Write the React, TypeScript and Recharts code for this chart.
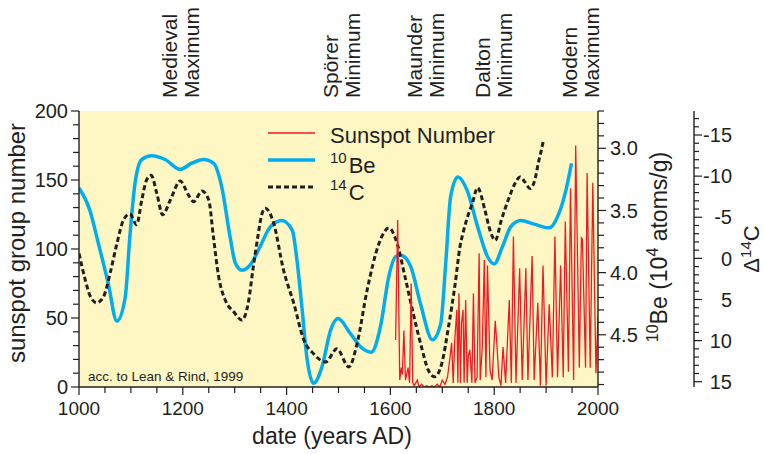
import { ComposedChart, Line, XAxis, YAxis, CartesianGrid } from "recharts";

const INK = "#231f20";
const PAPER = "#fef7c4";
const RED = "#ed1c24";
const BLUE = "#00aeef";
const FONT = "'Liberation Sans', Arial, Helvetica, sans-serif";

// 10Be concentration (10^4 atoms/g)
const beYears = [1000, 1021, 1037, 1056, 1073, 1089, 1098, 1108, 1121, 1140, 1166, 1195, 1217, 1240, 1259, 1275, 1291, 1301, 1314, 1333, 1349, 1369, 1391, 1411, 1420, 1430, 1439, 1452, 1468, 1485, 1499, 1523, 1546, 1563, 1581, 1597, 1610, 1620, 1639, 1658, 1681, 1697, 1707, 1716, 1730, 1748, 1768, 1787, 1800, 1816, 1832, 1851, 1877, 1906, 1922, 1938, 1949];
const beValues = [3.32, 3.5, 3.76, 4.08, 4.39, 4.2, 3.71, 3.28, 3.09, 3.06, 3.09, 3.17, 3.12, 3.09, 3.12, 3.31, 3.71, 3.92, 3.98, 3.92, 3.79, 3.63, 3.58, 3.66, 3.9, 4.3, 4.68, 4.89, 4.76, 4.46, 4.37, 4.49, 4.61, 4.64, 4.43, 4.03, 3.87, 3.86, 3.95, 4.25, 4.54, 4.41, 3.9, 3.39, 3.23, 3.34, 3.63, 3.87, 3.93, 3.79, 3.63, 3.58, 3.61, 3.64, 3.55, 3.34, 3.12];

// delta 14C (permil)
const c14Years = [1000, 1012, 1021, 1034, 1047, 1060, 1073, 1086, 1098, 1111, 1121, 1130, 1139, 1150, 1161, 1176, 1195, 1211, 1221, 1237, 1250, 1259, 1269, 1282, 1298, 1314, 1327, 1335, 1345, 1352, 1359, 1375, 1394, 1414, 1433, 1452, 1475, 1497, 1520, 1536, 1555, 1578, 1597, 1613, 1628, 1644, 1660, 1673, 1685, 1699, 1712, 1725, 1734, 1740, 1750, 1758, 1768, 1782, 1792, 1802, 1814, 1827, 1840, 1850, 1859, 1869, 1879, 1885, 1891, 1895];
const c14Values = [-0.6, 2.6, 4.5, 5.4, 4.7, 1.8, -1.8, -4.7, -5.4, -4.1, -7.1, -9.5, -10.1, -7.9, -5.3, -7.1, -9.4, -7.7, -6.9, -8.2, -7.1, -2.6, 2.2, 5.1, 6.5, 7.5, 5.1, 1.4, -2.8, -5.3, -6.1, -4.3, 1.4, 5.5, 9.9, 11.6, 12.6, 11.0, 13.2, 10.3, 3.9, -1.8, -3.7, -1.8, 2.2, 6.7, 10.8, 13.6, 14.4, 12.8, 8.3, 3.0, -1.4, -3.1, -5.3, -6.7, -8.6, -5.9, -3.4, -2.2, -4.7, -7.1, -9.1, -9.9, -9.3, -8.5, -9.7, -11.6, -13.2, -14.4];

// group sunspot number
const ssYears = [1610, 1614, 1618, 1621, 1623, 1626, 1629, 1634, 1637, 1640, 1643, 1646, 1652, 1655, 1660, 1665, 1670, 1675, 1680, 1685, 1690, 1695, 1700, 1705, 1710, 1715, 1718, 1721, 1724, 1728, 1730, 1732, 1735, 1737, 1740, 1742, 1745, 1748, 1750, 1753, 1757, 1760, 1763, 1767, 1771, 1773, 1777, 1781, 1784, 1787, 1792, 1796, 1802, 1805, 1809, 1813, 1817, 1822, 1829, 1833, 1837, 1842, 1849, 1854, 1861, 1865, 1873, 1877, 1884, 1889, 1894, 1900, 1906, 1912, 1917, 1922, 1928, 1933, 1937, 1943, 1947, 1953, 1957, 1964, 1968, 1970, 1976, 1979, 1985, 1990, 1996, 2000];
const ssValues = [34, 121, 5, 14, 9, 41, 5, 14, 3, 75, 3, 1, 5, 0, 2, 0, 1, 0, 1, 0, 2, 0, 5, 2, 7, 22, 32, 3, 34, 56, 3, 68, 3, 46, 56, 3, 63, 3, 22, 27, 3, 68, 3, 7, 97, 5, 29, 92, 7, 88, 12, 5, 48, 32, 7, 1, 29, 3, 63, 3, 109, 3, 86, 5, 86, 5, 95, 5, 61, 1, 88, 1, 60, 7, 109, 7, 88, 7, 120, 11, 144, 5, 175, 14, 108, 107, 14, 155, 14, 148, 10, 51];

const yearTicks = [1000, 1050, 1100, 1150, 1200, 1250, 1300, 1350, 1400, 1450, 1500, 1550, 1600, 1650, 1700, 1750, 1800, 1850, 1900, 1950, 2000];
const yearLabels = [1000, 1200, 1400, 1600, 1800, 2000];
const ssTicks = [0, 10, 20, 30, 40, 50, 60, 70, 80, 90, 100, 110, 120, 130, 140, 150, 160, 170, 180, 190, 200];
const ssLabels = [0, 50, 100, 150, 200];
const beTicks = [2.7, 2.8, 2.9, 3.0, 3.1, 3.2, 3.3, 3.4, 3.5, 3.6, 3.7, 3.8, 3.9, 4.0, 4.1, 4.2, 4.3, 4.4, 4.5, 4.6, 4.7, 4.8, 4.9];
const beLabels = [3.0, 3.5, 4.0, 4.5];
const c14Ticks = [-17, -16, -15, -14, -13, -12, -11, -10, -9, -8, -7, -6, -5, -4, -3, -2, -1, 0, 1, 2, 3, 4, 5, 6, 7, 8, 9, 10, 11, 12, 13, 14, 15];
const c14Labels = [-15, -10, -5, 0, 5, 10, 15];

const periods = [
  { top: "Medieval", bottom: "Maximum", x: 199 },
  { top: "Spörer", bottom: "Minimum", x: 360 },
  { top: "Maunder", bottom: "Minimum", x: 444 },
  { top: "Dalton", bottom: "Minimum", x: 512 },
  { top: "Modern", bottom: "Maximum", x: 599 },
];

const beData = beYears.map((year, i) => ({ year, be: beValues[i] }));
const c14Data = c14Years.map((year, i) => ({ year, c14: c14Values[i] }));
const ssData = ssYears.map((year, i) => ({ year, ss: ssValues[i] }));

const isMajor = (list: number[], v: number) => list.some((m) => Math.abs(m - v) < 1e-6);

const BottomTick = ({ x, y, payload }: any) => {
  const major = isMajor(yearLabels, payload.value);
  return (
    <g>
      <line x1={x} x2={x} y1={y} y2={y + (major ? 8 : 6)} stroke={INK} strokeWidth={1.2} />
      {major && (
        <text x={x} y={y + 15} dy="0.71em" textAnchor="middle" fontSize={19} fill={INK} fontFamily={FONT}>
          {payload.value}
        </text>
      )}
    </g>
  );
};

const LeftTick = ({ x, y, payload }: any) => {
  const major = isMajor(ssLabels, payload.value);
  return (
    <g>
      <line x1={x} x2={x - (major ? 8 : 6)} y1={y} y2={y} stroke={INK} strokeWidth={1.2} />
      {major && (
        <text x={x - 11} y={y} dy="0.36em" textAnchor="end" fontSize={20} fill={INK} fontFamily={FONT}>
          {payload.value}
        </text>
      )}
    </g>
  );
};

const BeTick = ({ x, y, payload }: any) => {
  const major = isMajor(beLabels, payload.value);
  return (
    <g>
      <line x1={x} x2={x + (major ? 8 : 6)} y1={y} y2={y} stroke={INK} strokeWidth={1.2} />
      {major && (
        <text x={x + 12} y={y} dy="0.36em" textAnchor="start" fontSize={20} fill={INK} fontFamily={FONT}>
          {Number(payload.value).toFixed(1)}
        </text>
      )}
    </g>
  );
};

const C14Tick = ({ x, y, payload }: any) => {
  const major = isMajor(c14Labels, payload.value);
  return (
    <g>
      <line x1={x} x2={x + (major ? 8 : 5)} y1={y} y2={y} stroke={INK} strokeWidth={1.2} />
      {major && (
        <text x={x + 38} y={y} dy="0.36em" textAnchor="end" fontSize={20} fill={INK} fontFamily={FONT}>
          {payload.value}
        </text>
      )}
    </g>
  );
};

const Overlay = () => (
  <svg
    width={764}
    height={454}
    style={{ position: "absolute", left: 0, top: 0, pointerEvents: "none" }}
    fontFamily={FONT}
    fill={INK}
  >
    {periods.map((p) => (
      <g key={p.top} fontSize={21}>
        <text transform={`translate(${p.x - 21.7},98) rotate(-90)`}>{p.top}</text>
        <text transform={`translate(${p.x},98) rotate(-90)`}>{p.bottom}</text>
      </g>
    ))}

    <text transform="translate(25,243) rotate(-90)" textAnchor="middle" fontSize={24}>
      sunspot group number
    </text>
    <text x={332} y={444} textAnchor="middle" fontSize={23}>
      date (years AD)
    </text>
    <text transform="translate(667,247) rotate(-90)" textAnchor="middle" fontSize={23}>
      <tspan fontSize={16} dy={-9}>10</tspan>
      <tspan dy={9}>Be (10</tspan>
      <tspan fontSize={16} dy={-9}>4</tspan>
      <tspan dy={9}> atoms/g)</tspan>
    </text>
    <text transform="translate(759,249) rotate(-90)" textAnchor="middle" fontSize={22}>
      <tspan>Δ</tspan>
      <tspan fontSize={15} dy={-8}>14</tspan>
      <tspan dy={8}>C</tspan>
    </text>

    <text x={88} y={381} fontSize={13.5}>acc. to Lean &amp; Rind, 1999</text>

    <line x1={268} x2={315} y1={133} y2={133} stroke={RED} strokeWidth={1.3} />
    <text x={330} y={143} fontSize={22}>Sunspot Number</text>
    <line x1={268} x2={315} y1={160} y2={160} stroke={BLUE} strokeWidth={3.5} />
    <text x={330} y={173} fontSize={22}>
      <tspan fontSize={15} dy={-10}>10</tspan>
      <tspan dy={10} dx={2}>Be</tspan>
    </text>
    <line x1={268} x2={315} y1={187} y2={187} stroke={INK} strokeWidth={3} strokeDasharray="5 3" />
    <text x={330} y={200} fontSize={22}>
      <tspan fontSize={15} dy={-10}>14</tspan>
      <tspan dy={10} dx={2}>C</tspan>
    </text>
  </svg>
);

export default function App() {
  return (
    <div style={{ position: "relative", width: 764, height: 454 }}>
      <style>{"body{margin:0}"}</style>
      <ComposedChart width={764} height={454} margin={{ top: 111, right: 0, bottom: 0, left: 0 }}>
        <CartesianGrid xAxisId="x" yAxisId="ss" horizontal={false} vertical={false} fill={PAPER} fillOpacity={1} />
        <XAxis
          xAxisId="x"
          dataKey="year"
          type="number"
          domain={[1000, 2000]}
          allowDataOverflow
          ticks={yearTicks}
          interval={0}
          height={67}
          tickSize={0}
          tickMargin={0}
          tickLine={false}
          tick={(p: any) => <BottomTick {...p} />}
          axisLine={{ stroke: INK, strokeWidth: 1.4 }}
        />
        <XAxis
          xAxisId="top"
          orientation="top"
          type="number"
          domain={[1000, 2000]}
          height={0}
          tick={false}
          tickLine={false}
          axisLine={{ stroke: INK, strokeWidth: 1.4 }}
        />
        <YAxis
          yAxisId="ss"
          type="number"
          domain={[0, 200]}
          allowDataOverflow
          ticks={ssTicks}
          interval={0}
          width={79}
          tickSize={0}
          tickMargin={0}
          tickLine={false}
          tick={(p: any) => <LeftTick {...p} />}
          axisLine={{ stroke: INK, strokeWidth: 1.4 }}
        />
        <YAxis
          yAxisId="be"
          orientation="right"
          type="number"
          reversed
          domain={[2.7, 4.92]}
          allowDataOverflow
          ticks={beTicks}
          interval={0}
          width={96}
          tickSize={0}
          tickMargin={0}
          tickLine={false}
          tick={(p: any) => <BeTick {...p} />}
          axisLine={{ stroke: INK, strokeWidth: 1.4 }}
        />
        <YAxis
          yAxisId="c14"
          orientation="right"
          type="number"
          reversed
          domain={[-17.92, 15.64]}
          allowDataOverflow
          ticks={c14Ticks}
          interval={0}
          width={70}
          tickSize={0}
          tickMargin={0}
          tickLine={false}
          tick={(p: any) => <C14Tick {...p} />}
          axisLine={{ stroke: INK, strokeWidth: 1.4 }}
        />
        <Line
          xAxisId="x"
          yAxisId="be"
          data={beData}
          dataKey="be"
          type="monotone"
          stroke={BLUE}
          strokeWidth={3.5}
          dot={false}
          isAnimationActive={false}
        />
        <Line
          xAxisId="x"
          yAxisId="c14"
          data={c14Data}
          dataKey="c14"
          type="monotone"
          stroke={INK}
          strokeWidth={3}
          strokeDasharray="5 3"
          dot={false}
          isAnimationActive={false}
        />
        <Line
          xAxisId="x"
          yAxisId="ss"
          data={ssData}
          dataKey="ss"
          type="linear"
          stroke={RED}
          strokeWidth={1.3}
          dot={false}
          isAnimationActive={false}
        />
      </ComposedChart>
      <Overlay />
    </div>
  );
}
